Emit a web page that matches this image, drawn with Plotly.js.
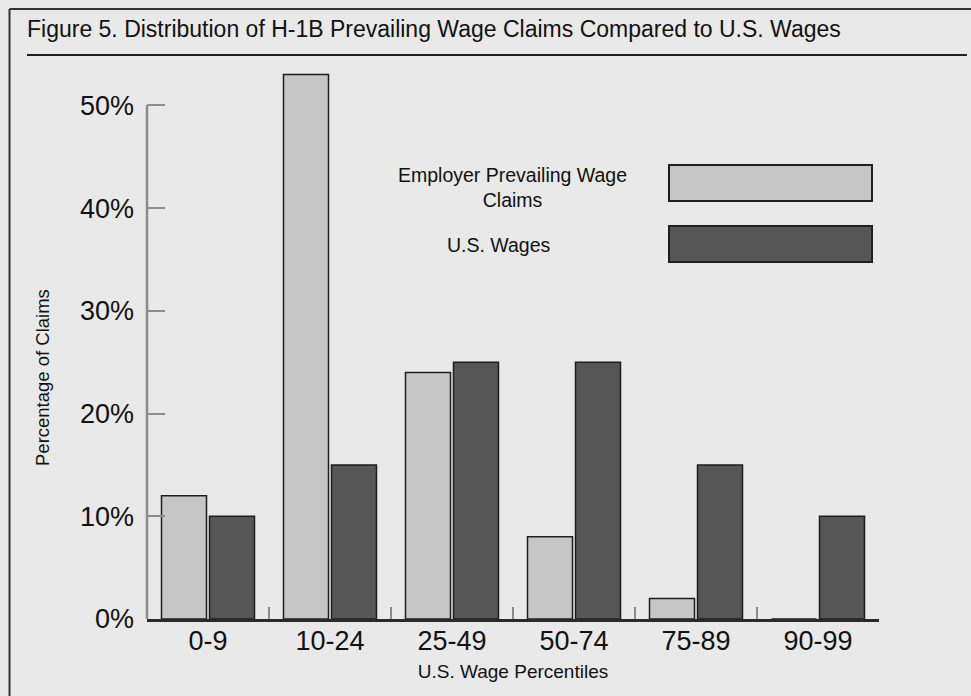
<!DOCTYPE html>
<html>
<head>
<meta charset="utf-8">
<script src="https://cdn.plot.ly/plotly-3.0.1.min.js"></script>
<style>
  html, body { margin: 0; padding: 0; background: #e9e9e9; }
  #chart { width: 971px; height: 696px; }
</style>
</head>
<body>
<div id="chart"></div>
<script>
const categories = ['0-9', '10-24', '25-49', '50-74', '75-89', '90-99'];
const claimsValues = [12, 53, 24, 8, 2, 0];
const usWageValues = [10, 15, 25, 25, 15, 10];
const seriesNames = ['Employer Prevailing Wage Claims', 'U.S. Wages'];
const legendLabels = ['Employer Prevailing Wage<br>Claims', 'U.S. Wages'];
const yTicks = [0, 10, 20, 30, 40, 50];
const titleText = 'Figure 5. Distribution of H-1B Prevailing Wage Claims Compared to U.S. Wages';
const xTitle = 'U.S. Wage Percentiles';
const yTitle = 'Percentage of Claims';

const FONT = '"Liberation Sans", Arial, Helvetica, sans-serif';
const LIGHT = '#c6c6c6';
const DARK = '#565656';
const EDGE = '#1e1e1e';

const W = 971, H = 696;
const L = 147, R = 92, T = 54, B = 77;
const PW = W - L - R, PH = H - T - B;
const px = x => (x - L) / PW;          // pixel x -> paper x
const py = y => (H - B - y) / PH;      // pixel y -> paper y

const traces = [
  {
    type: 'bar', name: seriesNames[0], x: categories, y: claimsValues,
    marker: { color: LIGHT, line: { color: EDGE, width: 1.5 } },
    hoverinfo: 'x+y'
  },
  {
    type: 'bar', name: seriesNames[1], x: categories, y: usWageValues,
    marker: { color: DARK, line: { color: EDGE, width: 1.5 } },
    hoverinfo: 'x+y'
  }
];

const shapes = [
  // outer frame (left and top edges)
  { type: 'line', xref: 'paper', yref: 'paper', x0: px(9.5), x1: px(9.5), y0: py(9), y1: py(700), line: { color: '#333', width: 2 } },
  { type: 'line', xref: 'paper', yref: 'paper', x0: px(9.5), x1: px(975), y0: py(9), y1: py(9), line: { color: '#333', width: 2 } },
  // title underline
  { type: 'line', xref: 'paper', yref: 'paper', x0: px(27), x1: px(967), y0: py(55), y1: py(55), line: { color: '#222', width: 2 } },
  // y axis line (0% to 50%)
  { type: 'line', xref: 'paper', yref: 'y', x0: 0, x1: 0, y0: 0, y1: 50, line: { color: '#8c8c8c', width: 2.5 }, layer: 'above' },
  // legend swatches
  { type: 'rect', xref: 'paper', yref: 'paper', x0: px(669), x1: px(872), y0: py(165), y1: py(201), fillcolor: LIGHT, line: { color: EDGE, width: 2 } },
  { type: 'rect', xref: 'paper', yref: 'paper', x0: px(669), x1: px(872), y0: py(226), y1: py(262), fillcolor: DARK, line: { color: EDGE, width: 2 } }
];

const annotations = [
  { xref: 'paper', yref: 'paper', x: px(512), y: py(188), text: legendLabels[0], showarrow: false,
    xanchor: 'center', yanchor: 'middle', align: 'center', font: { family: FONT, size: 19.5, color: '#111' } },
  { xref: 'paper', yref: 'paper', x: px(499), y: py(245), text: legendLabels[1], showarrow: false,
    xanchor: 'center', yanchor: 'middle', align: 'center', font: { family: FONT, size: 19.5, color: '#111' } },
  // y axis title
  { xref: 'paper', yref: 'paper', x: px(42), y: py(378), text: yTitle, showarrow: false, textangle: -90,
    xanchor: 'center', yanchor: 'middle', font: { family: FONT, size: 18.5, color: '#111' } }
];

const layout = {
  width: W, height: H,
  margin: { l: L, r: R, t: T, b: B, pad: 0 },
  paper_bgcolor: '#e9e9e9',
  plot_bgcolor: 'rgba(0,0,0,0)',
  showlegend: false,
  barmode: 'group',
  bargap: 0.213,
  bargroupgap: 0.0625,
  font: { family: FONT, color: '#111' },
  title: {
    text: titleText,
    x: 27 / W, xanchor: 'left', xref: 'container',
    y: 1 - 29 / H, yanchor: 'middle', yref: 'container',
    font: { family: FONT, size: 23, color: '#111' }
  },
  xaxis: {
    type: 'category',
    range: [-0.5, 5.5],
    showline: true, linecolor: '#2a2a2a', linewidth: 2.5,
    ticks: 'inside', tickson: 'boundaries', ticklen: 12, tickwidth: 2, tickcolor: '#8c8c8c',
    ticklabelstandoff: -4,
    tickfont: { family: FONT, size: 27, color: '#111' },
    showgrid: false, zeroline: false,
    title: { text: xTitle, font: { family: FONT, size: 19, color: '#111' }, standoff: 10 }
  },
  yaxis: {
    range: [0, 55],
    tickvals: yTicks,
    ticktext: yTicks.map(v => v + '%'),
    ticks: 'inside', ticklen: 18, tickwidth: 2, tickcolor: '#8c8c8c',
    ticklabelstandoff: 12,
    tickfont: { family: FONT, size: 27, color: '#111' },
    showline: false, showgrid: false, zeroline: false
  },
  shapes: shapes,
  annotations: annotations
};

Plotly.newPlot('chart', traces, layout, { displayModeBar: false, staticPlot: true });
</script>
</body>
</html>
